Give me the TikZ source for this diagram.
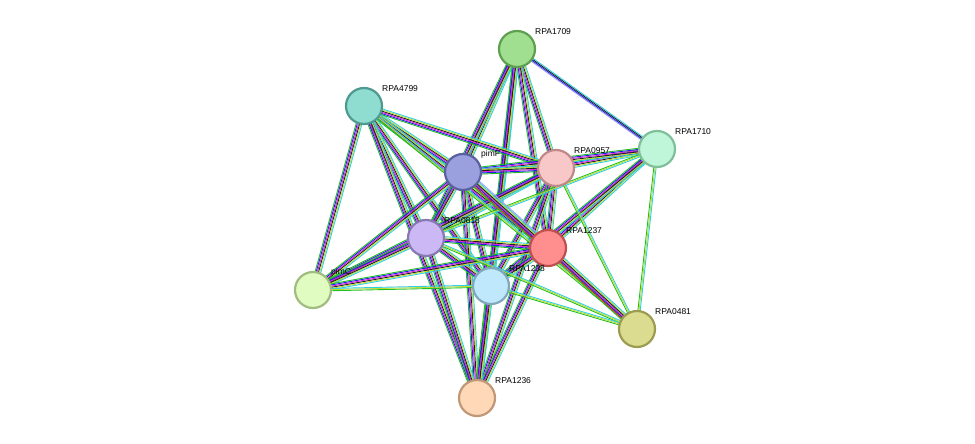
\documentclass[tikz,border=0pt]{standalone}
\usepackage{fontspec}
\setmainfont{Liberation Sans}
\usetikzlibrary{calc}
\pgfdeclarelayer{bg}\pgfsetlayers{bg,main}
\definecolor{sg}{HTML}{1FC01F}
\definecolor{sb}{HTML}{2020E0}
\definecolor{sm}{HTML}{E020E0}
\definecolor{sk}{HTML}{202020}
\definecolor{sy}{HTML}{C0DC30}
\definecolor{sc}{HTML}{30D0E0}
\definecolor{sr}{HTML}{F02020}
\definecolor{sl}{HTML}{A0A0F0}
\newcommand\sedge[4]{%
  \foreach \c [count=\i] in {#4} {%
    \pgfmathsetmacro\o{(\i-(#3+1)/2)*1.15}%
    \draw[draw=\c,line width=0.9pt] ($(#1)!\o pt!90:(#2)$) -- ($(#2)!\o pt!-90:(#1)$);
  }}
\tikzset{prot/.style={circle,minimum size=36pt,inner sep=0pt,line width=2.2pt},
lab/.style={font=\fontsize{8.5pt}{10pt}\selectfont,anchor=south west,inner sep=0pt}}
\begin{document}
\begin{tikzpicture}[x=1pt,y=-1pt]
\useasboundingbox (0,0) rectangle (975,444);
\def\nd#1#2#3#4#5{\definecolor{f#1}{HTML}{#4}\definecolor{d#1}{HTML}{#5}%
  \node[prot,fill=f#1,draw=d#1] (#1) at #2 {};
  \node[lab] (l#1) at ($(#1)+(18,-14)$) {#3};}
\nd{a}{(517,49)}{RPA1709}{9FDF8F}{5EA050}
\nd{b}{(364,106)}{RPA4799}{8FDCD0}{4F9A90}
\nd{c}{(657,149)}{RPA1710}{BFF5D8}{7FC09A}
\nd{d}{(463,172)}{pimF}{9AA0DD}{5A60A0}
\nd{e}{(556,168)}{RPA0957}{F8C8C8}{C08888}
\nd{f}{(426,238)}{RPA0818}{CBB8F5}{8A78B5}
\nd{g}{(548,248)}{RPA1237}{FF8F8F}{C05050}
\nd{h}{(313,290)}{pimC}{E0FCC0}{A0BC80}
\nd{i}{(491,286)}{RPA1238}{C0E8FC}{80A8BC}
\nd{j}{(637,329)}{RPA0481}{DCDC90}{9C9C50}
\nd{k}{(477,398)}{RPA1236}{FFD8B8}{C09878}
\begin{pgfonlayer}{bg}
\foreach \p/\q in {a/d,a/e,a/g,a/i,a/f,a/k,b/d,b/e,b/g,b/i,b/f,b/h,b/k,c/e,c/d,c/g,c/i,d/e,d/f,d/i,d/h,d/k,e/f,e/g,e/i,e/h,e/k,f/g,f/i,f/h,f/k,g/i,g/h,g/k,i/k}
  {\sedge{\p}{\q}{6}{sg,sb,sm,sk,sy,sc}}
\foreach \p/\q in {b/j,c/f,c/j,d/j,e/j,f/j,i/j,h/i}
  {\sedge{\p}{\q}{3}{sg,sy,sc}}
\sedge{a}{c}{4}{sl,sb,sk,sc}
\sedge{d}{g}{8}{sg,sr,sb,sm,sk,sy,sc,sl}
\sedge{g}{j}{7}{sg,sr,sb,sm,sk,sy,sc}
\end{pgfonlayer}
\end{tikzpicture}
\end{document}
